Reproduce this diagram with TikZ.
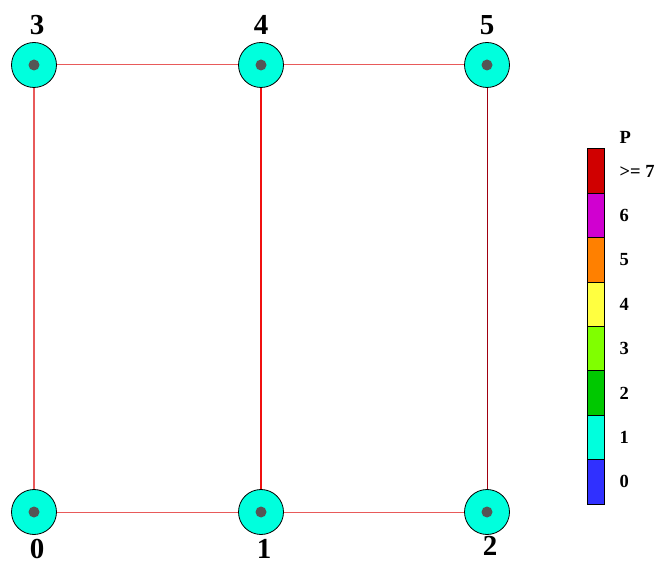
\documentclass[tikz,border=0pt]{standalone}
\usepackage{fontspec}
\setmainfont{Liberation Serif}
\usetikzlibrary{calc}

\definecolor{nodecyan}{HTML}{00FFDD}
\definecolor{dotgray}{HTML}{555555}
\definecolor{edgered}{HTML}{E85A5A}
\definecolor{midred}{HTML}{F01010}
\definecolor{darkred}{HTML}{A00010}
\definecolor{cbar0}{HTML}{3030FF}
\definecolor{cbar1}{HTML}{00FFDD}
\definecolor{cbar2}{HTML}{00C800}
\definecolor{cbar3}{HTML}{80FF00}
\definecolor{cbar4}{HTML}{FFFF40}
\definecolor{cbar5}{HTML}{FF8000}
\definecolor{cbar6}{HTML}{D000D0}
\definecolor{cbar7}{HTML}{D00000}

\tikzset{
    vert/.style={circle, draw=black, fill=nodecyan, minimum size=45pt, inner sep=0pt, line width=0.8pt},
    vlabel/.style={font=\fontsize{29}{29}\selectfont\bfseries},
    cblabel/.style={font=\fontsize{18.5}{18.5}\selectfont\bfseries, anchor=west}
}

\begin{document}
\begin{tikzpicture}[x=1pt,y=1pt]
                        \useasboundingbox (0,0) rectangle (661,565);
                        % vertices
                        \node [vert] (v0) at (34,53) {};
                        \node [vert] (v1) at (261,53) {};
                        \node [vert] (v2) at (487,53) {};
                        \node [vert] (v3) at (34,500) {};
                        \node [vert] (v4) at (261,500) {};
                        \node [vert] (v5) at (487,500) {};
                        \foreach \v in {0,...,5}
                        {
                            \fill [dotgray] (v\v) circle (5.5);
                        }
                        % edges
                        \draw [edgered, line width=1pt] (v0) -- (v1);
                        \draw [edgered, line width=1pt] (v1) -- (v2);
                        \draw [edgered, line width=1pt] (v3) -- (v4);
                        \draw [edgered, line width=1pt] (v4) -- (v5);
                        \draw [edgered, line width=1.2pt] (v0) -- (v3);
                        \draw [midred, line width=1.4pt] (v1) -- (v4);
                        \draw [darkred, line width=0.8pt] (v2) -- (v5);
                        % vertex labels
                        \node [vlabel] (l0) at (37,16) {0};
                        \node [vlabel] (l1) at (264,16) {1};
                        \node [vlabel] (l2) at (490,19) {2};
                        \node [vlabel] (l3) at (37,540) {3};
                        \node [vlabel] (l4) at (261,540) {4};
                        \node [vlabel] (l5) at (487,540) {5};
                        % colour bar
                        \foreach \i/\t in {0/0,1/1,2/2,3/3,4/4,5/5,6/6,7/{>= 7}}
                        {
                            \draw [fill=cbar\i, line width=0.6pt] (587,61+44.4*\i) rectangle (604,61+44.4*\i+44.4);
                            \node [cblabel] (c\i) at (616,61+44.4*\i+22.2) {\t};
                        }
                        \node [cblabel] (cp) at (616,428) {P};
                    \end{tikzpicture}
\end{document}
